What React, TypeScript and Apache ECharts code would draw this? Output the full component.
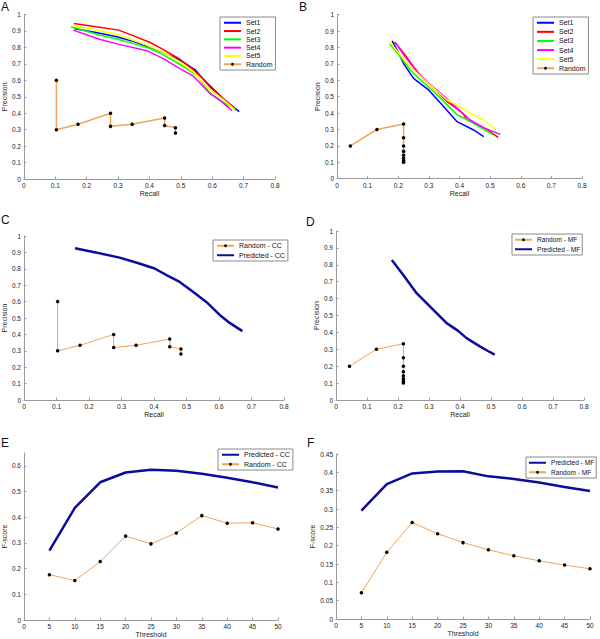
import React, { useEffect, useRef } from "react";
import * as echarts from "echarts";

// ---------- data ----------
const thresholds = [5, 10, 15, 20, 25, 30, 35, 40, 45, 50];

const randCCRecall = [0.1034, 0.1034, 0.1724, 0.2759, 0.2759, 0.3448, 0.4483, 0.4483, 0.4828, 0.4828];
const randCCPrecision = [0.6, 0.3, 0.3333, 0.4, 0.32, 0.3333, 0.3714, 0.325, 0.3111, 0.28];
const randMFRecall = [0.0435, 0.1304, 0.2174, 0.2174, 0.2174, 0.2174, 0.2174, 0.2174, 0.2174, 0.2174];
const randMFPrecision = [0.2, 0.3, 0.3333, 0.25, 0.2, 0.1667, 0.1429, 0.125, 0.1111, 0.1];

const aSet1 = [[0.161, 0.913], [0.23, 0.89], [0.296, 0.865], [0.35, 0.835], [0.402, 0.8], [0.45, 0.765], [0.497, 0.722], [0.545, 0.665], [0.593, 0.56], [0.64, 0.48], [0.686, 0.41]];
const aSet2 = [[0.159, 0.945], [0.23, 0.925], [0.302, 0.905], [0.35, 0.87], [0.402, 0.83], [0.45, 0.78], [0.497, 0.728], [0.54, 0.665], [0.6, 0.555], [0.64, 0.48], [0.676, 0.42]];
const aSet3 = [[0.15, 0.925], [0.243, 0.874], [0.3, 0.85], [0.349, 0.823], [0.4, 0.795], [0.444, 0.755], [0.503, 0.69], [0.55, 0.63], [0.593, 0.52], [0.64, 0.46], [0.672, 0.425]];
const aSet4 = [[0.157, 0.905], [0.243, 0.848], [0.3, 0.82], [0.392, 0.78], [0.444, 0.732], [0.497, 0.671], [0.54, 0.625], [0.593, 0.52], [0.63, 0.47], [0.663, 0.415]];
const aSet5 = [[0.157, 0.931], [0.22, 0.91], [0.286, 0.884], [0.34, 0.85], [0.392, 0.813], [0.45, 0.765], [0.497, 0.712], [0.54, 0.65], [0.582, 0.56], [0.63, 0.49], [0.672, 0.422]];

const bSet1 = [[0.18, 0.84], [0.2, 0.77], [0.218, 0.7], [0.25, 0.612], [0.3, 0.54], [0.348, 0.44], [0.392, 0.348], [0.446, 0.297], [0.479, 0.256]];
const bSet2 = [[0.188, 0.833], [0.22, 0.76], [0.25, 0.683], [0.28, 0.61], [0.316, 0.55], [0.36, 0.47], [0.392, 0.425], [0.41, 0.4], [0.424, 0.36], [0.49, 0.3], [0.526, 0.252]];
const bSet3 = [[0.172, 0.821], [0.2, 0.76], [0.239, 0.663], [0.28, 0.59], [0.316, 0.53], [0.36, 0.45], [0.392, 0.39], [0.435, 0.35], [0.511, 0.266]];
const bSet4 = [[0.19, 0.831], [0.22, 0.75], [0.261, 0.652], [0.3, 0.58], [0.326, 0.541], [0.392, 0.43], [0.435, 0.358], [0.48, 0.31], [0.533, 0.27]];
const bSet5 = [[0.171, 0.837], [0.2, 0.77], [0.239, 0.683], [0.28, 0.61], [0.316, 0.551], [0.359, 0.48], [0.392, 0.449], [0.435, 0.398], [0.479, 0.358], [0.52, 0.297]];

const cPredicted = [[0.157, 0.925], [0.22, 0.9], [0.294, 0.868], [0.35, 0.835], [0.402, 0.802], [0.44, 0.76], [0.479, 0.72], [0.52, 0.66], [0.561, 0.598], [0.607, 0.51], [0.633, 0.47], [0.672, 0.42]];
const dPredicted = [[0.18, 0.829], [0.217, 0.74], [0.26, 0.632], [0.314, 0.533], [0.357, 0.455], [0.394, 0.409], [0.421, 0.366], [0.464, 0.317], [0.49, 0.29], [0.512, 0.268]];

const ePredicted = [0.27, 0.436, 0.536, 0.574, 0.585, 0.581, 0.569, 0.554, 0.536, 0.516];
const eRandom = [0.1765, 0.1538, 0.2273, 0.3265, 0.2963, 0.339, 0.4062, 0.3768, 0.3784, 0.3544];
const fPredicted = [0.2955, 0.368, 0.397, 0.402, 0.403, 0.389, 0.382, 0.372, 0.36, 0.349];
const fRandom = [0.0714, 0.1818, 0.2632, 0.2326, 0.2083, 0.1887, 0.1724, 0.1587, 0.1471, 0.137];

const setNames = ["Set1", "Set2", "Set3", "Set4", "Set5"];
const setColors = ["#0000ff", "#ff0000", "#00ff00", "#ff00ff", "#ffff00"];
const panelLetters = ["A", "B", "C", "D", "E", "F"];

// ---------- styling ----------
const FONT = "Liberation Sans, Arial, sans-serif";
const ORANGE = "#f2a458";
const NAVY = "#0c0c9c";
const AXIS = "#9a9a9a";

const grids = [
  { left: 23, top: 14.5, width: 252, height: 164.5 },
  { left: 337, top: 14.7, width: 245, height: 164 },
  { left: 24, top: 236, width: 260, height: 164 },
  { left: 336, top: 231, width: 248, height: 169 },
  { left: 24, top: 453, width: 254, height: 168 },
  { left: 336, top: 454, width: 254, height: 165 },
];

const letterPos = [
  [1, 1], [299, 1], [1, 214], [306, 216], [1, 437], [307, 437],
];

function pairs(xs: number[], ys: number[]) {
  return xs.map((x, i) => [x, ys[i]]);
}

function axisCommon() {
  return {
    type: "value",
    axisLine: { show: true, lineStyle: { color: AXIS, width: 1 } },
    axisTick: { show: true, inside: true, length: 2.5, lineStyle: { color: AXIS } },
    splitLine: { show: false },
    axisLabel: { color: "#222", fontSize: 6.5, fontFamily: FONT, margin: 3 },
    nameTextStyle: { color: "#222", fontSize: 7, fontFamily: FONT },
    nameLocation: "middle",
  };
}

function App() {
  const ref = useRef<HTMLDivElement>(null);
  useEffect(() => {
    if (!ref.current) return;
    const chart = echarts.init(ref.current, null, { renderer: "svg" });

    const xAxes: any[] = [];
    const yAxes: any[] = [];
    for (let i = 0; i < 6; i++) {
      const isF = i >= 4;
      xAxes.push({
        ...axisCommon(),
        gridIndex: i,
        min: 0,
        max: isF ? 50 : 0.8,
        interval: isF ? 5 : 0.1,
        name: isF ? "Threshold" : "Recall",
        nameGap: 11,
      });
      const yMax = i < 4 ? 1 : i === 4 ? 0.65 : 0.45;
      const yInt = i === 5 ? 0.05 : 0.1;
      const ax: any = {
        ...axisCommon(),
        gridIndex: i,
        min: 0,
        max: yMax,
        interval: yInt,
        name: isF ? "F-score" : "Precision",
        nameGap: i === 5 ? 16 : 12,
      };
      if (i === 4) ax.axisLabel = { ...ax.axisLabel, showMaxLabel: false };
      yAxes.push(ax);
    }

    const series: any[] = [];
    const setLine = (name: string, color: string, data: number[][], idx: number) => ({
      type: "line",
      name,
      data,
      xAxisIndex: idx,
      yAxisIndex: idx,
      showSymbol: false,
      symbol: "none",
      lineStyle: { color, width: 1.5 },
      itemStyle: { color },
    });
    const randLine = (name: string, data: number[][], idx: number, w: number) => ({
      type: "line",
      name,
      data,
      xAxisIndex: idx,
      yAxisIndex: idx,
      symbol: "circle",
      symbolSize: 3.5,
      showSymbol: true,
      lineStyle: { color: ORANGE, width: w },
      itemStyle: { color: "#000" },
    });
    const predLine = (name: string, data: number[][], idx: number) => ({
      type: "line",
      name,
      data,
      xAxisIndex: idx,
      yAxisIndex: idx,
      showSymbol: false,
      symbol: "none",
      lineStyle: { color: NAVY, width: 2.5 },
      itemStyle: { color: NAVY },
    });

    const aSets = [aSet1, aSet2, aSet3, aSet4, aSet5];
    const bSets = [bSet1, bSet2, bSet3, bSet4, bSet5];
    aSets.forEach((d, k) => series.push(setLine(setNames[k], setColors[k], d, 0)));
    series.push(randLine("Random", pairs(randCCRecall, randCCPrecision), 0, 1.5));
    bSets.forEach((d, k) => series.push(setLine(setNames[k], setColors[k], d, 1)));
    series.push(randLine("Random", pairs(randMFRecall, randMFPrecision), 1, 1.5));

    series.push(randLine("Random - CC", pairs(randCCRecall, randCCPrecision), 2, 1));
    series.push(predLine("Predicted - CC", cPredicted, 2));
    series.push(randLine("Random - MF", pairs(randMFRecall, randMFPrecision), 3, 1));
    series.push(predLine("Predicted - MF", dPredicted, 3));

    series.push(predLine("Predicted - CC", pairs(thresholds, ePredicted), 4));
    series.push(randLine("Random - CC", pairs(thresholds, eRandom), 4, 1));
    series.push(predLine("Predicted - MF", pairs(thresholds, fPredicted), 5));
    series.push(randLine("Random - MF", pairs(thresholds, fRandom), 5, 1));

    const lineOnly = (name: string) => ({ name, itemStyle: { opacity: 0 } });
    const withDot = (name: string) => ({ name });

    const legendBase = {
      orient: "vertical",
      selectedMode: false,
      backgroundColor: "#fff",
      borderColor: "#8a8a8a",
      borderWidth: 1,
      borderRadius: 0,
      padding: [2, 3, 2, 3],
      itemWidth: 17,
      itemHeight: 3.5,
      itemGap: 1,
      textStyle: { color: "#111", fontSize: 7, fontFamily: FONT, lineHeight: 7.5 },
    };
    const smallText = { color: "#111", fontSize: 6.6, fontFamily: FONT, lineHeight: 7.5 };
    const legends = [
      { ...legendBase, left: 220, top: 17, itemGap: 0.8, data: [...setNames.map(lineOnly), withDot("Random")] },
      { ...legendBase, left: 533, top: 17, itemGap: 1.6, data: [...setNames.map(lineOnly), withDot("Random")] },
      { ...legendBase, left: 213, top: 240, itemGap: 2, data: [withDot("Random - CC"), lineOnly("Predicted - CC")] },
      { ...legendBase, left: 512, top: 234, itemGap: 2, padding: [2, 2, 2, 2], textStyle: smallText, data: [withDot("Random - MF"), lineOnly("Predicted - MF")] },
      { ...legendBase, left: 218, top: 449, itemGap: 2, data: [lineOnly("Predicted - CC"), withDot("Random - CC")] },
      { ...legendBase, left: 526, top: 457, itemGap: 2, padding: [2, 2, 2, 2], textStyle: smallText, data: [lineOnly("Predicted - MF"), withDot("Random - MF")] },
    ];

    const graphic = panelLetters.map((t, i) => ({
      type: "text",
      left: letterPos[i][0],
      top: letterPos[i][1],
      style: { text: t, fontSize: 12, fontFamily: FONT, fill: "#111" },
    }));

    chart.setOption({
      animation: false,
      backgroundColor: "#fff",
      grid: grids,
      xAxis: xAxes,
      yAxis: yAxes,
      legend: legends,
      series,
      graphic,
    });
    return () => chart.dispose();
  }, []);
  return (
    <div
      ref={ref}
      style={{ position: "fixed", left: 0, top: 0, width: 600, height: 639, background: "#fff" }}
    />
  );
}

export default App;
